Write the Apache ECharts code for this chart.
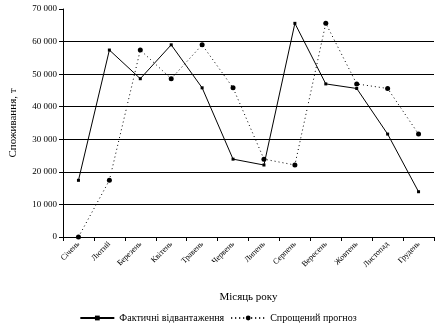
<!DOCTYPE html>
<html><head><meta charset="utf-8">
<script src="https://cdn.jsdelivr.net/npm/echarts@6/dist/echarts.min.js"></script>
<style>html,body{margin:0;padding:0;background:#fff}#c{width:436px;height:329px}</style>
</head><body><div id="c"></div>
<script>
const months = ['Січень','Лютий','Березень','Квітень','Травень','Червень','Липень','Серпень','Вересень','Жовтень','Листопад','Грудень'];
const actual = [17400, 57400, 48600, 59000, 45800, 23900, 22100, 65600, 47000, 45600, 31600, 13900];
const forecast = [0, 17400, 57400, 48600, 59000, 45800, 23900, 22100, 65600, 47000, 45600, 31600];
const yTicks = [0, 10000, 20000, 30000, 40000, 50000, 60000, 70000];
const seriesNames = ['Фактичні відвантаження', 'Спрощений прогноз'];
const font = '"Liberation Serif", "Times New Roman", serif';
const chart = echarts.init(document.getElementById('c'), null, {renderer: 'canvas'});
const fmt = v => String(v).replace(/\B(?=(\d{3})+(?!\d))/g, ' ');
chart.setOption({
  animation: false,
  backgroundColor: '#fff',
  grid: {left: 56, right: 2, top: 9, bottom: 92, containLabel: false},
  legend: {
    bottom: 1, left: 'center', itemWidth: 34, itemHeight: 6, itemGap: 6,
    textStyle: {fontFamily: font, fontSize: 10, color: '#000'},
    data: seriesNames
  },
  xAxis: {
    type: 'category', data: months, boundaryGap: true,
    name: 'Місяць року', nameLocation: 'middle', nameGap: 55,
    nameTextStyle: {fontFamily: font, fontSize: 11, color: '#000'},
    axisLine: {lineStyle: {color: '#000', width: 1}},
    axisTick: {show: true, length: 4, lineStyle: {color: '#000'}},
    axisLabel: {rotate: 45, fontFamily: font, fontSize: 8, color: '#000', margin: 6, interval: 0}
  },
  yAxis: {
    type: 'value', min: yTicks[0], max: yTicks[yTicks.length - 1], interval: 10000,
    name: 'Споживання, т', nameLocation: 'middle', nameGap: 44, nameRotate: 90,
    nameTextStyle: {fontFamily: font, fontSize: 11, color: '#000'},
    axisLine: {show: true, lineStyle: {color: '#000', width: 1}},
    axisTick: {show: true, length: 4, lineStyle: {color: '#000'}},
    axisLabel: {fontFamily: font, fontSize: 9, color: '#000', margin: 6, formatter: fmt},
    splitLine: {show: true, showMaxLine: false, lineStyle: {color: '#000', width: 1}}
  },
  series: [
    {
      name: seriesNames[0], type: 'line', data: actual,
      symbol: 'rect', symbolSize: 3, showSymbol: true,
      lineStyle: {color: '#000', width: 1, type: 'solid'},
      itemStyle: {color: '#000'}
    },
    {
      name: seriesNames[1], type: 'line', data: forecast,
      symbol: 'circle', symbolSize: 5, showSymbol: true,
      lineStyle: {color: '#000', width: 1, type: [1, 3]},
      itemStyle: {color: '#000'}
    }
  ]
});
</script></body></html>
